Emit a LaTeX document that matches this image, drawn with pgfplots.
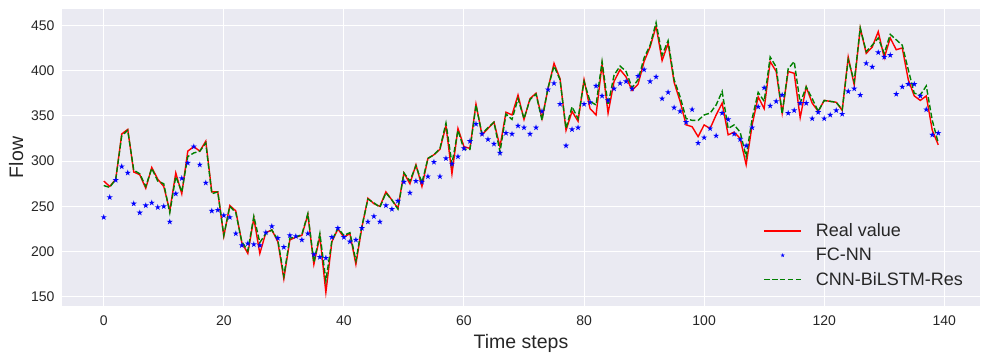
\documentclass[border=0pt]{standalone}
\usepackage{pgfplots}
\pgfplotsset{compat=1.18}
\usepackage{pgfplotstable}
\usepackage{fontspec}
\setmainfont{Liberation Sans}
\definecolor{bgc}{HTML}{EAEAF2}
\definecolor{txt}{HTML}{262626}
\definecolor{mplgreen}{HTML}{008000}
\pgfdeclareplotmark{fstar}{%
  \pgfpathmoveto{\pgfpointpolar{90}{\pgfplotmarksize}}%
  \pgfpathlineto{\pgfpointpolar{126}{0.382\pgfplotmarksize}}%
  \pgfpathlineto{\pgfpointpolar{162}{\pgfplotmarksize}}%
  \pgfpathlineto{\pgfpointpolar{198}{0.382\pgfplotmarksize}}%
  \pgfpathlineto{\pgfpointpolar{234}{\pgfplotmarksize}}%
  \pgfpathlineto{\pgfpointpolar{270}{0.382\pgfplotmarksize}}%
  \pgfpathlineto{\pgfpointpolar{306}{\pgfplotmarksize}}%
  \pgfpathlineto{\pgfpointpolar{342}{0.382\pgfplotmarksize}}%
  \pgfpathlineto{\pgfpointpolar{18}{\pgfplotmarksize}}%
  \pgfpathlineto{\pgfpointpolar{54}{0.382\pgfplotmarksize}}%
  \pgfpathclose\pgfusepathqfill}
\pgfplotsset{
  legred/.style={legend image code/.code={\draw[red, line width=1.4pt] (0pt,0pt) -- (37pt,0pt); \path (49pt,0pt);}},
  leggreen/.style={legend image code/.code={\draw[mplgreen, line width=1.4pt, dash pattern=on 5.5pt off 2.4pt] (0pt,0pt) -- (37pt,0pt); \path (49pt,0pt);}},
  legmark/.style={legend image code/.code={\path[blue, fill=blue] plot[mark=fstar, mark size=2.2pt] coordinates {(18.5pt,0pt)}; \path (0pt,0pt) (49pt,0pt);}},
}
\pgfplotstableread{
i r f g
0 278 238 273
1 272 260 271
2 280 279 280
3 330 294 328
4 335 287 334
5 288 253 290
6 285 243 286
7 270 251 272
8 293 254 292
9 280 249 278
10 272 250 275
11 245 233 243
12 287 264 283
13 264 281 266
14 311 298 305
15 316 316 309
16 311 296 311
17 322 276 320
18 266 245 264
19 266 246 266
20 217 240 218
21 251 238 250
22 245 220 243
23 210 207 211
24 198 209 201
25 237 208 239
26 198 207 210
27 221 221 220
28 224 228 224
29 211 215 213
30 170 205 173
31 213 218 215
32 216 217 216
33 218 213 219
34 241 220 242
35 186 197 188
36 217 194 220
37 155 193 168
38 211 216 212
39 225 226 226
40 216 216 218
41 220 211 221
42 186 213 190
43 227 226 228
44 259 233 258
45 253 239 254
46 250 233 249
47 266 251 265
48 257 247 257
49 248 256 247
50 287 277 287
51 275 265 278
52 296 278 295
53 272 277 276
54 303 283 303
55 307 299 307
56 313 283 314
57 339 303 342
58 286 297 297
59 336 305 334
60 316 314 313
61 314 322 313
62 363 341 362
63 329 330 330
64 336 324 337
65 343 319 343
66 316 309 310
67 354 331 352
68 351 330 346
69 373 339 369
70 346 337 347
71 369 330 368
72 375 337 374
73 347 355 345
74 380 379 381
75 408 386 405
76 391 363 390
77 334 317 336
78 355 335 360
79 344 337 347
80 390 363 388
81 358 365 366
82 351 383 362
83 407 372 410
84 353 367 362
85 388 380 395
86 401 386 405
87 393 388 399
88 378 380 381
89 385 394 390
90 410 401 414
91 426 388 428
92 449 393 453
93 411 369 417
94 430 376 433
95 387 359 390
96 366 355 371
97 340 343 347
98 338 357 345
99 327 320 345
100 340 326 351
101 336 336 353
102 351 328 362
103 364 353 377
104 329 346 336
105 332 330 340
106 325 324 332
107 296 317 305
108 340 337 347
109 371 360 376
110 358 381 366
111 410 361 415
112 399 366 404
113 353 373 352
114 399 353 402
115 397 356 410
116 348 364 364
117 382 364 382
118 364 347 369
119 355 354 355
120 367 347 367
121 366 351 366
122 365 356 365
123 356 352 357
124 415 377 412
125 384 380 388
126 447 373 447
127 419 408 421
128 426 404 428
129 443 420 436
130 414 415 419
131 436 417 440
132 423 374 434
133 425 382 428
134 390 385 401
135 372 385 375
136 367 372 373
137 372 357 383
138 334 329 345
139 318 331 320
}\data
\begin{document}
\begin{tikzpicture}[x=1pt,y=1pt]
\useasboundingbox (0,0) rectangle (1001,358);
\begin{axis}[
  at={(62pt,52pt)}, anchor=south west,
  width=918pt, height=297pt, scale only axis,
  xmin=-6.95, xmax=145.95, ymin=140, ymax=468,
  xtick={0,20,...,140}, ytick={150,200,...,450},
  axis background/.style={fill=bgc},
  axis line style={draw=none},
  major tick length=0pt,
  grid=major, major grid style={white, line width=1pt},
  tick label style={font=\fontsize{14}{16}\selectfont, text=txt},
  /pgf/number format/assume math mode=true,
  xticklabel style={yshift=-6pt},
  yticklabel style={xshift=-4pt},
  xlabel={Time steps}, ylabel={Flow},
  label style={font=\fontsize{19.5}{22}\selectfont, text=txt},
  xlabel style={yshift=-2pt},
  ylabel style={yshift=1pt},
  legend style={draw=none, fill=none, at={(0.987,0.05)}, anchor=south east,
    font=\fontsize{18}{20}\selectfont, text=txt, row sep=6pt},
  legend cell align=left,
]
\addplot[red, line width=1.4pt, mark=none, legred]
  table[x=i, y=r] {\data};
\addlegendentry{Real value}
\addplot[blue, only marks, mark=fstar, mark size=3.2pt, legmark]
  table[x=i, y=f] {\data};
\addlegendentry{FC-NN}
\addplot[mplgreen, line width=1.4pt, dash pattern=on 5.5pt off 2.4pt, mark=none, leggreen]
  table[x=i, y=g] {\data};
\addlegendentry{CNN-BiLSTM-Res}
\end{axis}
\end{tikzpicture}
\end{document}
